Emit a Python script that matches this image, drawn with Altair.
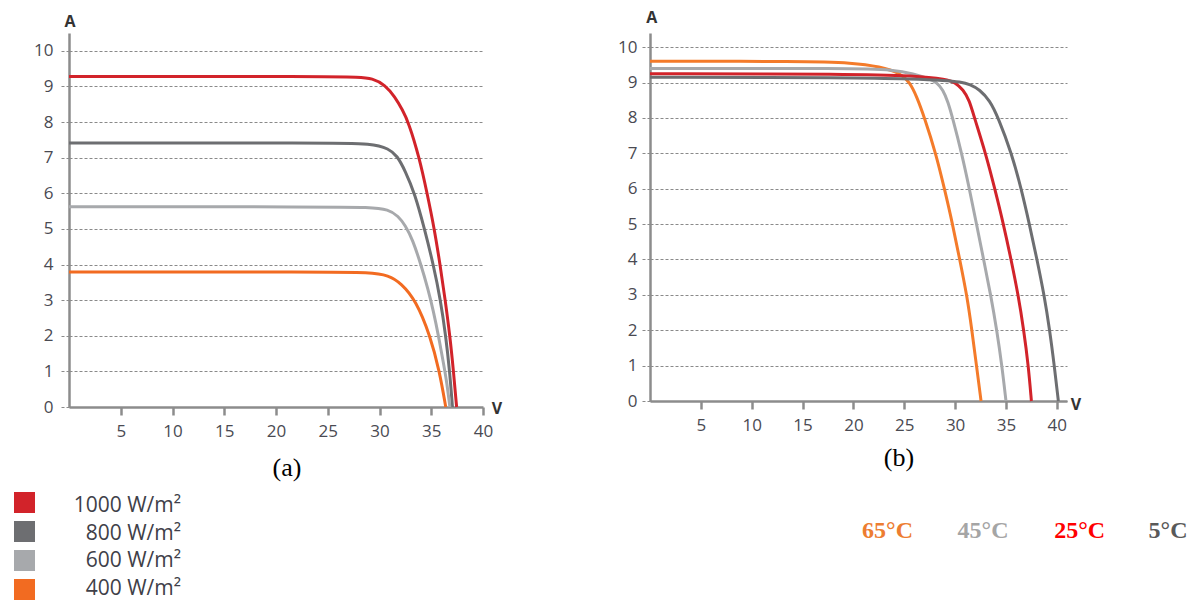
import altair as alt
import pandas as pd

# ---------------- Left panel: I-V curves for four irradiance levels ----------------
irr_names = ["1000 W/m²", "800 W/m²", "600 W/m²", "400 W/m²"]
irr_colors = ["#D2232A", "#6D6E71", "#A7A9AC", "#F26B21"]

v_1000 = [0, 25, 28, 29.3, 30.55, 31.5, 32.2, 32.8, 33.85, 34.6, 35.3, 35.85, 36.35, 36.8, 37.15, 37.45]
i_1000 = [9.28, 9.28, 9.26, 9.23, 9.04, 8.7, 8.35, 8.0, 7.0, 6.0, 5.0, 4.0, 3.0, 2.0, 1.0, 0.0]

v_800 = [0, 25, 29.3, 30.9, 31.7, 32.5, 33.4, 34.35, 35.2, 35.9, 36.4, 36.78, 37.05]
i_800 = [7.41, 7.41, 7.40, 7.25, 7.06, 6.62, 6.0, 5.0, 4.0, 3.0, 2.0, 1.0, 0.0]

v_600 = [0, 25, 29.0, 30.9, 31.8, 32.5, 33.2, 34.0, 34.7, 35.2, 35.7, 36.2, 36.5, 36.8]
i_600 = [5.62, 5.62, 5.61, 5.55, 5.36, 5.1, 4.7, 4.0, 3.3, 2.7, 2.0, 1.2, 0.7, 0.0]

v_400 = [0, 25, 29.0, 30.9, 32.1, 33.5, 34.9, 35.8, 36.4]
i_400 = [3.79, 3.79, 3.78, 3.70, 3.47, 3.0, 2.0, 1.0, 0.0]

# ---------------- Right panel: I-V curves for four cell temperatures ----------------
temp_names = ["65°C", "45°C", "25°C", "5°C"]
temp_line_colors = ["#F47B2A", "#A7A9AC", "#D2232A", "#6D6E71"]
temp_text_colors = ["#ED7D31", "#A5A5A5", "#FF0000", "#595959"]

v_65 = [0, 15, 20, 22.6, 24.6, 25.55, 26.2, 27.0, 28.1, 28.95, 29.75, 30.45, 31.15, 31.65, 32.1, 32.55]
i_65 = [9.6, 9.6, 9.56, 9.45, 9.27, 9.0, 8.62, 8.0, 7.0, 6.0, 5.0, 4.0, 3.0, 2.0, 1.0, 0.0]

v_45 = [0, 20, 24, 25.9, 27.5, 28.2, 28.8, 29.3, 29.75, 30.65, 31.4, 32.1, 32.8, 33.5, 34.1, 34.6, 35.0]
i_45 = [9.4, 9.4, 9.36, 9.25, 9.1, 9.0, 8.8, 8.45, 8.0, 7.0, 6.0, 5.0, 4.0, 3.0, 2.0, 1.0, 0.0]

v_25 = [0, 20, 26, 29.2, 30.0, 30.8, 31.4, 31.9, 33.0, 33.9, 34.75, 35.5, 36.2, 36.75, 37.2, 37.5]
i_25 = [9.25, 9.24, 9.19, 9.09, 9.0, 8.8, 8.5, 8.0, 7.0, 6.0, 5.0, 4.0, 3.0, 2.0, 1.0, 0.0]

v_5 = [0, 20, 26, 29, 30.5, 31.5, 32.4, 33.4, 34.25, 35.55, 36.5, 37.3, 38.05, 38.75, 39.3, 39.75, 40.15]
i_5 = [9.15, 9.14, 9.1, 9.06, 9.02, 8.95, 8.8, 8.5, 8.0, 7.0, 6.0, 5.0, 4.0, 3.0, 2.0, 1.0, 0.0]

y_ticks = list(range(0, 11))
x_ticks = [5, 10, 15, 20, 25, 30, 35, 40]

FONT = "Open Sans"
SERIF = "Liberation Serif"
AXIS_GREY = "#8c8c8c"
GRID_GREY = "#8a8a8a"
LABEL_COLOR = "#4a4a52"


def long_table(names, vs, cs):
    rows = []
    for name, v, c in zip(names, vs, cs):
        for vv, ii in zip(v, c):
            rows.append({"series": name, "V": vv, "I": ii})
    return pd.DataFrame(rows)


def one_text(text, x, y, size, color, font=FONT, weight="normal", align="center"):
    return (
        alt.Chart(pd.DataFrame({"t": [text]}))
        .mark_text(font=font, fontSize=size, fontWeight=weight, color=color,
                   align=align, baseline="middle")
        .encode(text="t:N", x=alt.value(x), y=alt.value(y))
    )


def curve_panel(df, names, colors, x_max, y_max, w, h, y_label_pad):
    y_axis = alt.Axis(
        values=y_ticks, grid=True, gridDash=[3, 2], gridColor=GRID_GREY, gridWidth=1,
        tickSize=8, tickDash=[3, 2], tickColor=GRID_GREY, tickWidth=1,
        domainColor=AXIS_GREY, domainWidth=2.5,
        labelFont=FONT, labelFontSize=17, labelColor=LABEL_COLOR,
        labelPadding=y_label_pad, labelFlush=False, title=None,
    )
    x_axis = alt.Axis(
        values=x_ticks, grid=False,
        tickSize=8, tickColor=AXIS_GREY, tickWidth=2.5,
        domainColor=AXIS_GREY, domainWidth=2.5,
        labelFont=FONT, labelFontSize=17, labelColor=LABEL_COLOR,
        labelPadding=8, labelFlush=False, title=None,
    )
    # B-spline through the read-off points gives the smooth diode-curve shape
    lines = alt.Chart(df).mark_line(strokeWidth=3, interpolate="basis").encode(
        x=alt.X("V:Q", scale=alt.Scale(domain=[0, x_max], nice=False, zero=False), axis=x_axis),
        y=alt.Y("I:Q", scale=alt.Scale(domain=[0, y_max], nice=False), axis=y_axis),
        color=alt.Color("series:N", scale=alt.Scale(domain=names, range=colors), legend=None),
        order=alt.Order("V:Q"),
    )
    return lines.properties(width=w, height=h)


df_a = long_table(irr_names, [v_1000, v_800, v_600, v_400], [i_1000, i_800, i_600, i_400])
df_b = long_table(temp_names, [v_65, v_45, v_25, v_5], [i_65, i_45, i_25, i_5])

# Left panel with its unit labels, caption and irradiance key
layers_a = [
    curve_panel(df_a, irr_names, irr_colors, 40, 10.5, 414, 374, 8),
    one_text("A", 1, -11, 16, "#333333", weight="bold"),
    one_text("V", 428, 376, 16, "#333333", weight="bold"),
    one_text("(a)", 218, 435, 26, "#000000", font=SERIF),
]
for k, (name, col) in enumerate(zip(irr_names, irr_colors)):
    layers_a.append(
        alt.Chart(pd.DataFrame({"s": [name]}))
        .mark_square(size=441, color=col, opacity=1, strokeWidth=0)
        .encode(x=alt.value(-44.5), y=alt.value(469.5 + k * 29))
    )
    layers_a.append(one_text(name, 112, 473 + k * 27.7, 21, "#404048", align="right"))
panel_a = alt.layer(*layers_a)

# Right panel with its unit labels, caption and temperature key
layers_b = [
    curve_panel(df_b, temp_names, temp_line_colors, 41, 10.4, 417, 368, 5),
    one_text("A", 1.7, -15.3, 16, "#333333", weight="bold"),
    one_text("V", 426, 371.5, 16, "#333333", weight="bold"),
    one_text("(b)", 249, 425, 26, "#000000", font=SERIF),
]
temp_x = [237.5, 333, 429.7, 518]
for name, col, x in zip(temp_names, temp_text_colors, temp_x):
    layers_b.append(one_text(name, x, 498, 24, col, font=SERIF, weight="bold"))
panel_b = alt.layer(*layers_b)

chart = (
    alt.hconcat(panel_a, panel_b, spacing=167, bounds="flush")
    .resolve_scale(color="independent")
    .properties(padding={"left": 14, "top": 9, "right": 0, "bottom": 0})
    .configure_view(stroke=None)
)

chart.save("out.html", embed_options={"renderer": "svg", "actions": False})
